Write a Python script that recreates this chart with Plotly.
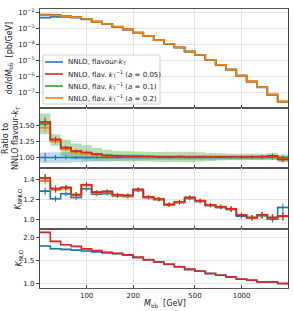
import plotly.graph_objects as go
from plotly.subplots import make_subplots
import math

# ---------------- data ----------------
bin_edges = [50.0, 58.3, 68.0, 79.3, 92.4, 107.7, 125.6, 146.5, 170.8, 199.1, 232.1,
             270.7, 315.5, 367.9, 429.0, 500.0, 583.0, 679.8, 792.6, 924.2, 1077.6,
             1256.5, 1465.1, 1708.3, 1991.9]

xs_blue = [4.7e-3, 5.2e-3, 5.1e-3, 4.55e-3, 3.6e-3, 2.5e-3, 1.8e-3, 1.23e-3, 8.3e-4, 5.3e-4,
           3.25e-4, 1.78e-4, 1.06e-4, 6.2e-5, 3.45e-5, 2.07e-5, 1.06e-5, 5.1e-6, 2.55e-6,
           1.05e-6, 4.5e-7, 1.97e-7, 6.7e-8, 2.55e-8]
xs_red = [7.3e-3, 6.65e-3, 5.85e-3, 4.95e-3, 3.85e-3, 2.62e-3, 1.86e-3, 1.27e-3, 8.5e-4, 5.4e-4,
          3.3e-4, 1.8e-4, 1.07e-4, 6.3e-5, 3.5e-5, 2.1e-5, 1.07e-5, 5.2e-6, 2.6e-6,
          1.07e-6, 4.6e-7, 2.0e-7, 6.9e-8, 2.48e-8]
xs_green = [7.1e-3, 6.6e-3, 5.83e-3, 4.93e-3, 3.83e-3, 2.61e-3, 1.86e-3, 1.26e-3, 8.5e-4, 5.4e-4,
            3.3e-4, 1.8e-4, 1.07e-4, 6.3e-5, 3.5e-5, 2.1e-5, 1.07e-5, 5.2e-6, 2.6e-6,
            1.07e-6, 4.6e-7, 2.0e-7, 6.9e-8, 2.5e-8]
xs_orange = [6.8e-3, 6.5e-3, 5.8e-3, 4.9e-3, 3.8e-3, 2.6e-3, 1.86e-3, 1.26e-3, 8.5e-4, 5.4e-4,
             3.3e-4, 1.8e-4, 1.07e-4, 6.3e-5, 3.5e-5, 2.1e-5, 1.07e-5, 5.2e-6, 2.6e-6,
             1.07e-6, 4.6e-7, 2.0e-7, 6.9e-8, 2.5e-8]
xs_orange_lo = [6.0e-3, 5.8e-3, 5.2e-3, 4.4e-3, 3.4e-3, 2.35e-3, 1.68e-3, 1.14e-3, 7.7e-4, 4.9e-4,
                3.0e-4, 1.63e-4, 9.7e-5, 5.7e-5, 3.17e-5, 1.9e-5, 9.7e-6, 4.7e-6, 2.35e-6,
                9.7e-7, 4.17e-7, 1.8e-7, 6.25e-8, 2.27e-8]
xs_orange_hi = [7.5e-3, 7.2e-3, 6.4e-3, 5.4e-3, 4.2e-3, 2.87e-3, 2.05e-3, 1.39e-3, 9.4e-4, 5.95e-4,
                3.64e-4, 1.99e-4, 1.18e-4, 6.95e-5, 3.86e-5, 2.32e-5, 1.18e-5, 5.74e-6, 2.87e-6,
                1.18e-6, 5.08e-7, 2.2e-7, 7.6e-8, 2.76e-8]

ratio_blue = [1.0] * 24
ratio_red = [1.55, 1.28, 1.153, 1.10, 1.077, 1.052, 1.031, 1.025, 1.02, 1.02, 1.015, 1.01,
             1.01, 1.012, 1.008, 1.01, 1.008, 1.01, 1.01, 1.008, 1.01, 1.012, 1.025, 0.97]
ratio_green = [1.52, 1.27, 1.145, 1.095, 1.07, 1.048, 1.03, 1.022, 1.018, 1.018, 1.013, 1.01,
               1.01, 1.01, 1.008, 1.01, 1.008, 1.01, 1.01, 1.008, 1.01, 1.01, 1.02, 0.975]
ratio_orange = [1.46, 1.25, 1.13, 1.08, 1.06, 1.04, 1.026, 1.02, 1.016, 1.015, 1.012, 1.008,
                1.008, 1.01, 1.006, 1.008, 1.006, 1.008, 1.008, 1.006, 1.008, 1.01, 1.018, 0.978]
ratio_blue_band = [0.08, 0.08, 0.08, 0.07, 0.07, 0.06, 0.05, 0.05, 0.045, 0.045, 0.04, 0.04,
                   0.04, 0.04, 0.04, 0.04, 0.04, 0.035, 0.035, 0.035, 0.035, 0.035, 0.04, 0.045]
ratio_green_band = [0.16, 0.09, 0.13, 0.12, 0.12, 0.10, 0.09, 0.08, 0.08, 0.075, 0.075, 0.075,
                    0.08, 0.08, 0.08, 0.07, 0.06, 0.055, 0.05, 0.05, 0.05, 0.05, 0.05, 0.05]
ratio_err = [0.07, 0.04, 0.03, 0.025, 0.02, 0.02, 0.015, 0.015, 0.015, 0.015, 0.015, 0.015,
             0.015, 0.015, 0.015, 0.015, 0.015, 0.015, 0.015, 0.02, 0.02, 0.025, 0.035, 0.04]

knnlo_blue = [1.283, 1.207, 1.257, 1.22, 1.307, 1.253, 1.26, 1.235, 1.23, 1.29, 1.22, 1.20,
              1.145, 1.17, 1.21, 1.18, 1.14, 1.12, 1.10, 1.035, 1.015, 1.04, 1.005, 1.12]
knnlo_red = [1.413, 1.307, 1.32, 1.247, 1.347, 1.273, 1.28, 1.247, 1.24, 1.30, 1.225, 1.205,
             1.15, 1.175, 1.22, 1.187, 1.145, 1.127, 1.107, 1.045, 1.02, 1.047, 1.02, 1.035]
knnlo_green = [1.415, 1.31, 1.32, 1.25, 1.345, 1.27, 1.28, 1.245, 1.24, 1.30, 1.225, 1.205,
               1.15, 1.175, 1.22, 1.187, 1.145, 1.127, 1.107, 1.045, 1.02, 1.047, 1.02, 1.035]
knnlo_orange = [1.385, 1.295, 1.31, 1.24, 1.34, 1.265, 1.275, 1.24, 1.235, 1.295, 1.22, 1.2,
                1.147, 1.172, 1.218, 1.185, 1.143, 1.125, 1.105, 1.043, 1.018, 1.045, 1.018, 1.033]
knnlo_err = [0.035, 0.03, 0.025, 0.025, 0.025, 0.02, 0.02, 0.02, 0.02, 0.02, 0.02, 0.02,
             0.02, 0.02, 0.02, 0.02, 0.02, 0.02, 0.025, 0.025, 0.025, 0.03, 0.035, 0.04]

knlo_blue = [1.82, 1.76, 1.745, 1.73, 1.71, 1.69, 1.67, 1.65, 1.62, 1.57, 1.52, 1.47,
             1.42, 1.366, 1.31, 1.27, 1.22, 1.18, 1.146, 1.095, 1.073, 1.035, 1.035, 1.0]
knlo_red = [2.117, 1.92, 1.845, 1.81, 1.757, 1.72, 1.684, 1.66, 1.625, 1.57, 1.52, 1.47,
            1.42, 1.366, 1.31, 1.27, 1.22, 1.18, 1.146, 1.095, 1.073, 1.035, 1.035, 1.0]

legend_names = ["NNLO, flavour-<i>k</i><sub>T</sub>",
                "NNLO, flav. <i>k</i><sub>T</sub><sup>−1</sup> (<i>a</i> = 0.05)",
                "NNLO, flav. <i>k</i><sub>T</sub><sup>−1</sup> (<i>a</i> = 0.1)",
                "NNLO, flav. <i>k</i><sub>T</sub><sup>−1</sup> (<i>a</i> = 0.2)"]

C_BLUE, C_RED, C_GREEN, C_ORANGE = "#1f77b4", "#d62728", "#2ca02c", "#ff7f0e"
FONT = "DejaVu Sans"

centers = [math.sqrt(a * b) for a, b in zip(bin_edges[:-1], bin_edges[1:])]

fig = make_subplots(rows=4, cols=1, shared_xaxes=True, vertical_spacing=0,
                    row_heights=[99, 60, 61, 59])


def stepy(v):
    return list(v) + [v[-1]]


def line(row, vals, color, width=1.6):
    fig.add_trace(go.Scatter(x=bin_edges, y=stepy(vals), mode="lines",
                             line=dict(color=color, width=width, shape="hv"),
                             showlegend=False, hoverinfo="skip"), row=row, col=1)


def band(row, lo, hi, fill):
    fig.add_trace(go.Scatter(x=bin_edges, y=stepy(lo), mode="lines",
                             line=dict(width=0, shape="hv"), showlegend=False,
                             hoverinfo="skip"), row=row, col=1)
    fig.add_trace(go.Scatter(x=bin_edges, y=stepy(hi), mode="lines",
                             line=dict(width=0, shape="hv"), fill="tonexty",
                             fillcolor=fill, showlegend=False, hoverinfo="skip"),
                  row=row, col=1)


def errs(row, vals, e, color):
    fig.add_trace(go.Scatter(x=centers, y=vals, mode="markers",
                             marker=dict(size=1, color=color, opacity=0),
                             error_y=dict(type="data", array=e, color=color,
                                          thickness=1.1, width=0),
                             showlegend=False, hoverinfo="skip"), row=row, col=1)


# ---- panel 1 ----
band(1, xs_orange_lo, xs_orange_hi, "rgba(255,127,14,0.35)")
line(1, xs_blue, C_BLUE)
line(1, xs_red, C_RED)
line(1, xs_green, C_GREEN)
line(1, xs_orange, C_ORANGE)

# ---- panel 2 ----
band(2, [r - e for r, e in zip(ratio_blue, ratio_blue_band)],
     [r + e for r, e in zip(ratio_blue, ratio_blue_band)], "rgba(31,119,180,0.28)")
band(2, [r - e for r, e in zip(ratio_green, ratio_green_band)],
     [r + e for r, e in zip(ratio_green, ratio_green_band)], "rgba(44,160,44,0.35)")
band(2, [r - 0.02 for r in ratio_orange], [r + 0.02 for r in ratio_orange], "rgba(255,127,14,0.3)")
band(2, [r - 0.015 for r in ratio_red], [r + 0.015 for r in ratio_red], "rgba(214,39,40,0.25)")
for vals, c in [(ratio_blue, C_BLUE), (ratio_green, C_GREEN), (ratio_orange, C_ORANGE), (ratio_red, C_RED)]:
    line(2, vals, c)
    errs(2, vals, ratio_err, c)

# ---- panel 3 ----
for vals, c, f in [(knnlo_blue, C_BLUE, "rgba(31,119,180,0.25)"),
                   (knnlo_green, C_GREEN, "rgba(44,160,44,0.25)"),
                   (knnlo_orange, C_ORANGE, "rgba(255,127,14,0.25)"),
                   (knnlo_red, C_RED, "rgba(214,39,40,0.25)")]:
    band(3, [v - 0.012 for v in vals], [v + 0.012 for v in vals], f)
for vals, c in [(knnlo_blue, C_BLUE), (knnlo_green, C_GREEN), (knnlo_orange, C_ORANGE), (knnlo_red, C_RED)]:
    line(3, vals, c)
    errs(3, vals, knnlo_err, c)

# ---- panel 4 ----
band(4, [v - 0.02 for v in knlo_blue], [v + 0.02 for v in knlo_blue], "rgba(31,119,180,0.25)")
band(4, [v - 0.02 for v in knlo_red], [v + 0.02 for v in knlo_red], "rgba(214,39,40,0.25)")
line(4, knlo_blue, C_BLUE)
line(4, knlo_red, C_RED)

# ---------------- axes ----------------
xr = [math.log10(bin_edges[0]), math.log10(bin_edges[-1])]
for r in range(1, 5):
    fig.update_xaxes(type="log", range=xr, showline=True, mirror=True, linewidth=1.3,
                     linecolor="#555", showgrid=True, gridcolor="#e3e3e3", gridwidth=1,
                     tickvals=[100, 200, 500, 1000], ticktext=["100", "200", "500", "1000"],
                     ticks="inside", ticklen=3, tickcolor="#444", automargin=False,
                     showticklabels=(r == 4), tickfont=dict(size=7, family=FONT, color="#222"),
                     zeroline=False, row=r, col=1)
    fig.update_yaxes(showline=True, mirror=True, linewidth=1.2, linecolor="#444",
                     showgrid=True, gridcolor="#e3e3e3", gridwidth=1, ticks="outside",
                     ticklen=3, tickcolor="#444", zeroline=False, automargin=False,
                     tickfont=dict(size=7, family=FONT, color="#222"), row=r, col=1)

fig.update_yaxes(type="log", range=[-8, -1.79],
                 tickvals=[1e-7, 1e-6, 1e-5, 1e-4, 1e-3, 1e-2],
                 ticktext=["10<sup>−7</sup>", "10<sup>−6</sup>", "10<sup>−5</sup>",
                           "10<sup>−4</sup>", "10<sup>−3</sup>", "10<sup>−2</sup>"], row=1, col=1)
fig.update_yaxes(range=[0.838, 1.765], tickvals=[1.0, 1.25, 1.5],
                 ticktext=["1.00", "1.25", "1.50"], row=2, col=1)
fig.update_yaxes(range=[0.907, 1.513], tickvals=[1.0, 1.2, 1.4],
                 ticktext=["1.0", "1.2", "1.4"], row=3, col=1)
fig.update_yaxes(range=[0.903, 2.19], tickvals=[1.0, 1.5, 2.0],
                 ticktext=["1.0", "1.5", "2.0"], row=4, col=1)

W, H, L, R, T, B = 293, 311, 40, 5, 9, 23
PW = W - L - R
PH = H - T - B


def pxx(px):
    return (px - L) / PW


def pxy(py):
    return (H - B - py) / PH


tot = 99 + 60 + 61 + 59
centers_y = [(60 + 61 + 59 + 99 / 2) / tot, (61 + 59 + 30) / tot, (59 + 30.5) / tot, 29.5 / tot]
ytitles = [("dσ/d<i>M</i><sub>bb̄</sub>  [pb/GeV]", 10),
           ("Ratio to<br>NNLO flavour-<i>k</i><sub>T</sub>", 11),
           ("<i>K</i><sub>NNLO</sub>", 18),
           ("<i>K</i><sub>NLO</sub>", 19)]
annotations = []
shapes = []
for (txt, px), yc in zip(ytitles, centers_y):
    annotations.append(dict(text=txt, x=pxx(px), y=yc, xref="paper", yref="paper",
                            textangle=-90, showarrow=False, xanchor="center", yanchor="middle",
                            font=dict(size=8, family=FONT, color="#222")))
annotations.append(dict(text="<i>M</i><sub>bb̄</sub>  [GeV]", x=pxx(165), y=pxy(304),
                        xref="paper", yref="paper", showarrow=False, xanchor="center",
                        yanchor="middle", font=dict(size=8, family=FONT, color="#222")))

# legend box (drawn inside the top panel)
shapes.append(dict(type="rect", xref="paper", yref="paper", x0=pxx(43), x1=pxx(160),
                   y0=pxy(104), y1=pxy(55), fillcolor="rgba(255,255,255,0.85)",
                   line=dict(color="#d0d0d0", width=1), layer="above"))
legend_colors = [C_BLUE, C_RED, C_GREEN, C_ORANGE]
legend_y = [62, 74, 86, 98]
for name, col, ly in zip(legend_names, legend_colors, legend_y):
    shapes.append(dict(type="line", xref="paper", yref="paper", x0=pxx(45), x1=pxx(63),
                       y0=pxy(ly), y1=pxy(ly), line=dict(color=col, width=1.6), layer="above"))
    annotations.append(dict(text=name, x=pxx(66), y=pxy(ly), xref="paper", yref="paper",
                            showarrow=False, xanchor="left", yanchor="middle",
                            font=dict(size=7, family=FONT, color="#222")))

fig.update_layout(
    width=W, height=H, margin=dict(l=L, r=R, t=T, b=B),
    paper_bgcolor="white", plot_bgcolor="white",
    font=dict(family=FONT, size=7, color="#222"),
    annotations=annotations, shapes=shapes,
    showlegend=False,
)

fig.write_html("out.html", config={"displayModeBar": False},
               post_script="document.body.style.margin='0';document.body.style.padding='0';")
